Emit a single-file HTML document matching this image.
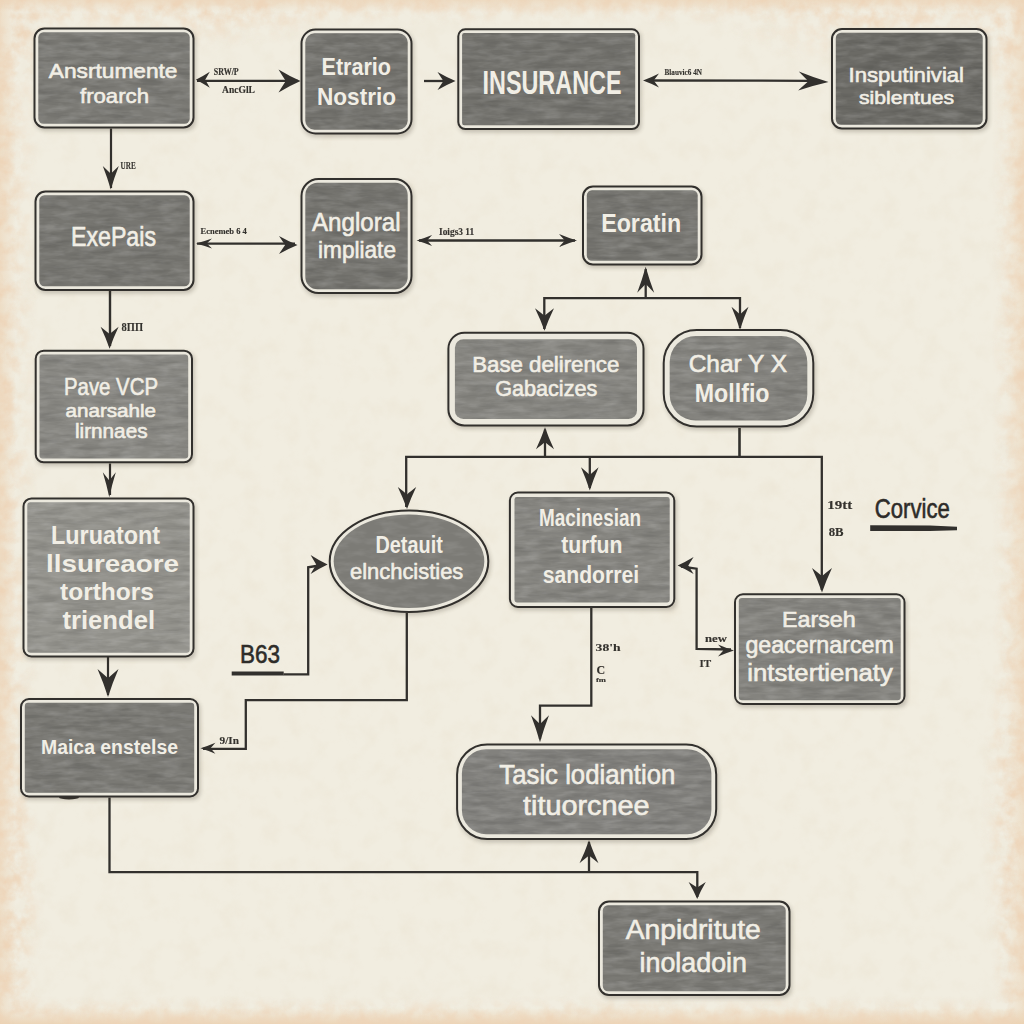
<!DOCTYPE html>
<html><head><meta charset="utf-8"><style>
html,body{margin:0;padding:0;background:#f1ede0;}
body{width:1024px;height:1024px;overflow:hidden;}
svg{display:block;}
</style></head><body>
<svg width="1024" height="1024" viewBox="0 0 1024 1024">
<defs>
<filter id="lblur" x="-5%" y="-20%" width="110%" height="140%"><feGaussianBlur stdDeviation="0.35"/></filter>
<filter id="blur" x="-10%" y="-10%" width="120%" height="120%"><feGaussianBlur stdDeviation="2.2"/></filter>
<filter id="soft" x="-50%" y="-50%" width="200%" height="200%"><feGaussianBlur stdDeviation="18"/></filter>
<filter id="tex2" x="0" y="0" width="100%" height="100%"><feTurbulence type="fractalNoise" baseFrequency="0.03 0.2" numOctaves="3" seed="19"/><feColorMatrix type="matrix" values="0 0 0 0 0  0 0 0 0 0  0 0 0 0 0  0 0 0 -2.4 1.45"/><feComposite in2="SourceGraphic" operator="in"/></filter>
<filter id="tex" x="0" y="0" width="100%" height="100%"><feTurbulence type="fractalNoise" baseFrequency="0.05 0.16" numOctaves="3" seed="7"/><feColorMatrix type="matrix" values="0 0 0 0 1  0 0 0 0 1  0 0 0 0 1  0 0 0 -2.2 1.35"/><feComposite in2="SourceGraphic" operator="in"/></filter>
<pattern id="streak" width="120" height="24" patternUnits="userSpaceOnUse">
<rect x="0" y="3" width="70" height="3" fill="#8a8883" opacity="0.6"/>
<rect x="40" y="11" width="80" height="2" fill="#65635f" opacity="0.6"/>
<rect x="10" y="18" width="60" height="3" fill="#86847f" opacity="0.5"/>
</pattern>
<linearGradient id="gl" x1="0" x2="1" y1="0" y2="0">
<stop offset="0" stop-color="#000" stop-opacity="1"/><stop offset="1" stop-color="#000" stop-opacity="0"/></linearGradient>
<linearGradient id="gr" x1="1" x2="0" y1="0" y2="0">
<stop offset="0" stop-color="#000" stop-opacity="1"/><stop offset="1" stop-color="#000" stop-opacity="0"/></linearGradient>
<linearGradient id="gt" x1="0" x2="0" y1="0" y2="1">
<stop offset="0" stop-color="#000" stop-opacity="1"/><stop offset="1" stop-color="#000" stop-opacity="0"/></linearGradient>
<linearGradient id="gb" x1="0" x2="0" y1="1" y2="0">
<stop offset="0" stop-color="#000" stop-opacity="1"/><stop offset="1" stop-color="#000" stop-opacity="0"/></linearGradient>
<radialGradient id="rg"><stop offset="0" stop-color="#000" stop-opacity="0.8"/><stop offset="1" stop-color="#000" stop-opacity="0"/></radialGradient>
<filter id="blotch" color-interpolation-filters="sRGB" x="0" y="0" width="1024" height="1024" filterUnits="userSpaceOnUse">
<feTurbulence type="fractalNoise" baseFrequency="0.07" numOctaves="4" seed="11" result="n"/>
<feColorMatrix in="n" type="matrix" values="0 0 0 0 0.93  0 0 0 0 0.83  0 0 0 0 0.72  0 0 0 2.2 -0.75" result="c"/>
<feComposite in="c" in2="SourceGraphic" operator="in"/>
</filter>
<filter id="paper" color-interpolation-filters="sRGB" x="0" y="0" width="1024" height="1024" filterUnits="userSpaceOnUse">
<feTurbulence type="fractalNoise" baseFrequency="0.05" numOctaves="4" seed="5" result="n"/>
<feColorMatrix in="n" type="matrix" values="0 0 0 0 0.85  0 0 0 0 0.78  0 0 0 0 0.66  0 0 0 2 -0.9"/>
</filter>
</defs>
<rect width="1024" height="1024" fill="#f1ede0"/>
<rect width="1024" height="1024" fill="#fff" filter="url(#paper)" opacity="0.12"/>
<linearGradient id="wl" x1="0" x2="1" y1="0" y2="0"><stop offset="0" stop-color="#ebcfae" stop-opacity="0.5"/><stop offset="1" stop-color="#ebcfae" stop-opacity="0"/></linearGradient>
<linearGradient id="wr" x1="1" x2="0" y1="0" y2="0"><stop offset="0" stop-color="#ebcfae" stop-opacity="0.45"/><stop offset="1" stop-color="#ebcfae" stop-opacity="0"/></linearGradient>
<linearGradient id="wt" x1="0" x2="0" y1="0" y2="1"><stop offset="0" stop-color="#ebcfae" stop-opacity="0.55"/><stop offset="1" stop-color="#ebcfae" stop-opacity="0"/></linearGradient>
<linearGradient id="wb" x1="0" x2="0" y1="1" y2="0"><stop offset="0" stop-color="#ebcfae" stop-opacity="0.8"/><stop offset="1" stop-color="#ebcfae" stop-opacity="0"/></linearGradient>
<rect x="0" y="0" width="16" height="1024" fill="url(#wl)"/>
<rect x="1006" y="0" width="18" height="1024" fill="url(#wr)"/>
<rect x="0" y="0" width="1024" height="12" fill="url(#wt)"/>
<rect x="0" y="1008" width="1024" height="16" fill="url(#wb)"/>
<g filter="url(#blotch)">
<rect x="0" y="0" width="38" height="1024" fill="url(#gl)"/>
<rect x="992" y="0" width="32" height="1024" fill="url(#gr)"/>
<rect x="0" y="0" width="1024" height="26" fill="url(#gt)" opacity="0.85"/>
<rect x="0" y="996" width="1024" height="28" fill="url(#gb)"/>
<ellipse cx="20" cy="30" rx="70" ry="60" fill="url(#rg)"/>
<ellipse cx="1010" cy="30" rx="50" ry="60" fill="url(#rg)"/>
<ellipse cx="880" cy="15" rx="160" ry="55" fill="url(#rg)"/>
<ellipse cx="200" cy="10" rx="160" ry="40" fill="url(#rg)"/>
<ellipse cx="10" cy="900" rx="35" ry="140" fill="url(#rg)"/>
<ellipse cx="1015" cy="820" rx="35" ry="200" fill="url(#rg)"/>
</g>

<path d="M197,80.8 L298,80.8" fill="none" stroke="#32302d" stroke-width="2.3" stroke-linejoin="miter" stroke-linecap="butt"/>
<path d="M300.5,81.0 Q289.5,85.8 278.5,92.5 Q283.1,85.0 285.8,81.0 Q283.1,77.0 278.5,69.5 Q289.5,76.2 300.5,81.0 Z" fill="#32302d"/>
<path d="M195.8,79.8 Q202.8,76.4 209.8,71.8 Q206.9,77.0 205.2,79.8 Q206.9,82.6 209.8,87.8 Q202.8,83.2 195.8,79.8 Z" fill="#32302d"/>
<path d="M424,81 L452,81" fill="none" stroke="#32302d" stroke-width="2.3" stroke-linejoin="miter" stroke-linecap="butt"/>
<path d="M455.5,81.0 Q446.5,84.8 437.5,90.0 Q441.3,84.2 443.4,81.0 Q441.3,77.8 437.5,72.0 Q446.5,77.2 455.5,81.0 Z" fill="#32302d"/>
<path d="M647,80.5 L810,80.8" fill="none" stroke="#32302d" stroke-width="2.3" stroke-linejoin="miter" stroke-linecap="butt"/>
<path d="M828.5,82.0 Q813.4,85.5 798.2,90.4 Q804.7,84.5 808.4,81.3 Q804.9,77.8 798.8,71.5 Q813.6,77.5 828.5,82.0 Z" fill="#32302d"/>
<path d="M643.0,80.5 Q651.0,77.6 659.0,73.5 Q655.6,78.0 653.7,80.5 Q655.6,83.0 659.0,87.5 Q651.0,83.4 643.0,80.5 Z" fill="#32302d"/>
<path d="M111,128.5 L111,188" fill="none" stroke="#32302d" stroke-width="2.2" stroke-linejoin="miter" stroke-linecap="butt"/>
<path d="M110.8,189.5 Q107.4,177.8 102.8,166.0 Q108.0,170.9 110.8,173.8 Q113.6,170.9 118.8,166.0 Q114.2,177.8 110.8,189.5 Z" fill="#32302d"/>
<path d="M197,243.6 L295,243.6" fill="none" stroke="#32302d" stroke-width="2.3" stroke-linejoin="miter" stroke-linecap="butt"/>
<path d="M297.5,245.0 Q288.2,248.8 279.0,254.0 Q282.9,248.2 285.1,245.0 Q282.9,241.8 279.0,236.0 Q288.2,241.2 297.5,245.0 Z" fill="#32302d"/>
<path d="M196.0,243.6 Q204.0,241.5 212.0,238.6 Q208.6,241.8 206.7,243.6 Q208.6,245.3 212.0,248.6 Q204.0,245.7 196.0,243.6 Z" fill="#32302d"/>
<path d="M419,240.5 L575,240.5" fill="none" stroke="#32302d" stroke-width="2.3" stroke-linejoin="miter" stroke-linecap="butt"/>
<path d="M577.0,240.5 Q568.0,243.2 559.0,247.0 Q562.8,242.8 564.9,240.5 Q562.8,238.2 559.0,234.0 Q568.0,237.8 577.0,240.5 Z" fill="#32302d"/>
<path d="M416.6,240.5 Q424.4,238.2 432.1,235.0 Q428.8,238.6 427.0,240.5 Q428.8,242.4 432.1,246.0 Q424.4,242.8 416.6,240.5 Z" fill="#32302d"/>
<path d="M110,291 L110,346" fill="none" stroke="#32302d" stroke-width="2.4" stroke-linejoin="miter" stroke-linecap="butt"/>
<path d="M109.6,348.8 Q105.8,337.8 100.6,326.8 Q106.4,331.4 109.6,334.1 Q112.8,331.4 118.6,326.8 Q113.4,337.8 109.6,348.8 Z" fill="#32302d"/>
<path d="M110,463.5 L110,495" fill="none" stroke="#32302d" stroke-width="2.2" stroke-linejoin="miter" stroke-linecap="butt"/>
<path d="M109.3,497.3 Q106.6,484.8 102.8,472.3 Q107.0,477.6 109.3,480.6 Q111.6,477.6 115.8,472.3 Q112.0,484.8 109.3,497.3 Z" fill="#32302d"/>
<path d="M108,657 L108,695" fill="none" stroke="#32302d" stroke-width="2.2" stroke-linejoin="miter" stroke-linecap="butt"/>
<path d="M108.0,697.0 Q103.6,683.0 97.5,669.0 Q104.3,674.9 108.0,678.2 Q111.7,674.9 118.5,669.0 Q112.4,683.0 108.0,697.0 Z" fill="#32302d"/>
<path d="M109.5,797.5 L109.5,872.2 L697.3,872.2 L697.3,897" fill="none" stroke="#32302d" stroke-width="2.3" stroke-linejoin="miter" stroke-linecap="butt"/>
<path d="M697.2,899.0 Q693.6,890.5 688.6,882.0 Q694.2,885.6 697.2,887.6 Q700.2,885.6 705.8,882.0 Q700.8,890.5 697.2,899.0 Z" fill="#32302d"/>
<path d="M589,872.2 L589,842" fill="none" stroke="#32302d" stroke-width="2.3" stroke-linejoin="miter" stroke-linecap="butt"/>
<path d="M589.0,840.2 Q593.0,851.7 598.5,863.2 Q592.3,858.4 589.0,855.6 Q585.7,858.4 579.5,863.2 Q585.0,851.7 589.0,840.2 Z" fill="#32302d"/>
<path d="M645.7,298.2 L645.7,269" fill="none" stroke="#32302d" stroke-width="2.3" stroke-linejoin="miter" stroke-linecap="butt"/>
<path d="M645.7,266.7 Q649.3,279.7 654.2,292.7 Q648.7,287.2 645.7,284.1 Q642.7,287.2 637.2,292.7 Q642.1,279.7 645.7,266.7 Z" fill="#32302d"/>
<path d="M544.3,329 L544.3,298.2 L740,298.2 L740,328" fill="none" stroke="#32302d" stroke-width="2.3" stroke-linejoin="miter" stroke-linecap="butt"/>
<path d="M544.5,330.8 Q540.5,319.6 535.0,308.3 Q541.2,313.0 544.5,315.7 Q547.8,313.0 554.0,308.3 Q548.5,319.6 544.5,330.8 Z" fill="#32302d"/>
<path d="M740.0,329.8 Q736.4,318.3 731.5,306.8 Q737.0,311.6 740.0,314.4 Q743.0,311.6 748.5,306.8 Q743.6,318.3 740.0,329.8 Z" fill="#32302d"/>
<path d="M545,456.9 L545,429.5" fill="none" stroke="#32302d" stroke-width="2.3" stroke-linejoin="miter" stroke-linecap="butt"/>
<path d="M545.0,427.3 Q548.8,438.3 554.0,449.3 Q548.1,444.7 545.0,442.0 Q541.9,444.7 536.0,449.3 Q541.2,438.3 545.0,427.3 Z" fill="#32302d"/>
<path d="M739.5,428 L739.5,456.9" fill="none" stroke="#32302d" stroke-width="2.6" stroke-linejoin="miter" stroke-linecap="butt"/>
<path d="M406.2,507 L406.2,456.9 L821.8,456.9 L821.8,590" fill="none" stroke="#32302d" stroke-width="2.3" stroke-linejoin="miter" stroke-linecap="butt"/>
<path d="M407.0,509.1 Q403.1,498.1 397.8,487.1 Q403.8,491.7 407.0,494.4 Q410.2,491.7 416.2,487.1 Q410.9,498.1 407.0,509.1 Z" fill="#32302d"/>
<path d="M822.0,592.5 Q817.8,580.2 812.0,568.0 Q818.5,573.1 822.0,576.1 Q825.5,573.1 832.0,568.0 Q826.2,580.2 822.0,592.5 Z" fill="#32302d"/>
<path d="M589.8,456.9 L589.8,488" fill="none" stroke="#32302d" stroke-width="2.3" stroke-linejoin="miter" stroke-linecap="butt"/>
<path d="M589.8,490.6 Q586.1,478.9 581.0,467.2 Q586.7,472.1 589.8,474.9 Q592.9,472.1 598.6,467.2 Q593.5,478.9 589.8,490.6 Z" fill="#32302d"/>
<path d="M406.8,613 L406.8,700.2 L245.8,700.2 L245.8,748.8 L203,748.8" fill="none" stroke="#32302d" stroke-width="2.3" stroke-linejoin="miter" stroke-linecap="butt"/>
<path d="M200.4,748.3 Q207.9,746.0 215.4,742.8 Q212.3,746.4 210.5,748.3 Q212.3,750.2 215.4,753.8 Q207.9,750.6 200.4,748.3 Z" fill="#32302d"/>
<path d="M283.5,674.4 L308.2,674.4 L308.2,567.3 L322,565" fill="none" stroke="#32302d" stroke-width="2.3" stroke-linejoin="miter" stroke-linecap="butt"/>
<path d="M327.6,564.4 Q319.1,568.4 310.6,573.9 Q314.2,567.7 316.2,564.4 Q314.2,561.1 310.6,554.9 Q319.1,560.4 327.6,564.4 Z" fill="#32302d"/>
<rect x="231.7" y="671.5" width="52" height="4" fill="#32302d"/>
<path d="M591.3,607 L591.3,705.6 L540,705.6 L540,739" fill="none" stroke="#32302d" stroke-width="2.3" stroke-linejoin="miter" stroke-linecap="butt"/>
<path d="M540.0,742.2 Q536.2,728.7 531.0,715.2 Q536.9,720.9 540.0,724.1 Q543.1,720.9 549.0,715.2 Q543.8,728.7 540.0,742.2 Z" fill="#32302d"/>
<path d="M681,566.5 L696.6,568.7 L696.6,648.9 L731,649.5" fill="none" stroke="#32302d" stroke-width="2.3" stroke-linejoin="miter" stroke-linecap="butt"/>
<path d="M677.6,565.5 Q685.6,561.9 693.6,557.0 Q690.2,562.5 688.3,565.5 Q690.2,568.5 693.6,574.0 Q685.6,569.1 677.6,565.5 Z" fill="#32302d"/>
<path d="M734.0,650.5 Q726.0,653.0 718.0,656.5 Q721.4,652.6 723.3,650.5 Q721.4,648.4 718.0,644.5 Q726.0,648.0 734.0,650.5 Z" fill="#32302d"/>
<path d="M870.2,525.3 L930,525.6 L957,526.8 L957,530.2 L930,531 L870.2,531 Z" fill="#32302d"/>
<rect x="35.0" y="30.0" width="161.0" height="101.0" rx="10" fill="#3a3020" opacity="0.24" filter="url(#blur)"/>
<rect x="34.5" y="28.5" width="159.0" height="99.0" rx="10" fill="#ebe8dd" stroke="#32302d" stroke-width="2.0"/>
<rect x="38.3" y="32.3" width="151.4" height="91.4" rx="5.2" fill="#7b7a75"/>
<rect x="38.3" y="32.3" width="151.4" height="91.4" rx="5.2" fill="#fff" filter="url(#tex)" opacity="0.13"/>
<rect x="38.3" y="32.3" width="151.4" height="91.4" rx="5.2" fill="#000" filter="url(#tex2)" opacity="0.10"/>
<text x="48.75" y="77.5" textLength="128.75" lengthAdjust="spacingAndGlyphs" font-family="Liberation Sans" font-weight="normal" font-size="21" fill="#f1eee5" stroke="#f1eee5" stroke-width="0.6">Ansrtumente</text>
<text x="80" y="102.5" textLength="69" lengthAdjust="spacingAndGlyphs" font-family="Liberation Sans" font-weight="normal" font-size="21" fill="#f1eee5" stroke="#f1eee5" stroke-width="0.6">froarch</text>
<rect x="302.0" y="31.0" width="112.0" height="106.0" rx="14" fill="#3a3020" opacity="0.24" filter="url(#blur)"/>
<rect x="301.5" y="29.5" width="110.0" height="104.0" rx="14" fill="#ebe8dd" stroke="#32302d" stroke-width="2.0"/>
<rect x="305.3" y="33.3" width="102.4" height="96.4" rx="9.2" fill="#74736e"/>
<rect x="305.3" y="33.3" width="102.4" height="96.4" rx="9.2" fill="#fff" filter="url(#tex)" opacity="0.13"/>
<rect x="305.3" y="33.3" width="102.4" height="96.4" rx="9.2" fill="#000" filter="url(#tex2)" opacity="0.10"/>
<text x="321.5" y="75" textLength="69.5" lengthAdjust="spacingAndGlyphs" font-family="Liberation Sans" font-weight="bold" font-size="24" fill="#f1eee5">Etrario</text>
<text x="317" y="105" textLength="79" lengthAdjust="spacingAndGlyphs" font-family="Liberation Sans" font-weight="bold" font-size="24" fill="#f1eee5">Nostrio</text>
<rect x="458.8" y="30.8" width="182.7" height="101.7" rx="7" fill="#3a3020" opacity="0.24" filter="url(#blur)"/>
<rect x="458.3" y="29.3" width="180.7" height="99.7" rx="7" fill="#ebe8dd" stroke="#32302d" stroke-width="2.0"/>
<rect x="462.1" y="33.1" width="173.1" height="92.10000000000001" rx="2.2" fill="#73726d"/>
<rect x="462.1" y="33.1" width="173.1" height="92.10000000000001" rx="2.2" fill="#fff" filter="url(#tex)" opacity="0.13"/>
<rect x="462.1" y="33.1" width="173.1" height="92.10000000000001" rx="2.2" fill="#000" filter="url(#tex2)" opacity="0.10"/>
<text x="482.5" y="94" textLength="139.0" lengthAdjust="spacingAndGlyphs" font-family="Liberation Sans" font-weight="bold" font-size="33" fill="#f1eee5">INSURANCE</text>
<rect x="832.5" y="30.5" width="156.5" height="101.5" rx="10" fill="#3a3020" opacity="0.24" filter="url(#blur)"/>
<rect x="832.0" y="29.0" width="154.5" height="99.5" rx="10" fill="#ebe8dd" stroke="#32302d" stroke-width="2.0"/>
<rect x="835.8" y="32.8" width="146.9" height="91.9" rx="5.2" fill="#6b6a65"/>
<rect x="835.8" y="32.8" width="146.9" height="91.9" rx="5.2" fill="#fff" filter="url(#tex)" opacity="0.13"/>
<rect x="835.8" y="32.8" width="146.9" height="91.9" rx="5.2" fill="#000" filter="url(#tex2)" opacity="0.10"/>
<text x="848.5" y="82" textLength="115.5" lengthAdjust="spacingAndGlyphs" font-family="Liberation Sans" font-weight="normal" font-size="21" fill="#f1eee5" stroke="#f1eee5" stroke-width="0.6">Insputinivial</text>
<text x="859" y="104" textLength="95" lengthAdjust="spacingAndGlyphs" font-family="Liberation Sans" font-weight="normal" font-size="18" fill="#f1eee5" stroke="#f1eee5" stroke-width="0.6">siblentues</text>
<rect x="36.0" y="193.0" width="160.0" height="100.5" rx="10" fill="#3a3020" opacity="0.24" filter="url(#blur)"/>
<rect x="35.5" y="191.5" width="158.0" height="98.5" rx="10" fill="#ebe8dd" stroke="#32302d" stroke-width="2.0"/>
<rect x="39.3" y="195.3" width="150.4" height="90.9" rx="5.2" fill="#777671"/>
<rect x="39.3" y="195.3" width="150.4" height="90.9" rx="5.2" fill="#fff" filter="url(#tex)" opacity="0.13"/>
<rect x="39.3" y="195.3" width="150.4" height="90.9" rx="5.2" fill="#000" filter="url(#tex2)" opacity="0.10"/>
<text x="71" y="246" textLength="85" lengthAdjust="spacingAndGlyphs" font-family="Liberation Sans" font-weight="normal" font-size="27" fill="#f1eee5" stroke="#f1eee5" stroke-width="0.6">ExePais</text>
<rect x="302.0" y="180.5" width="112.0" height="116" rx="17" fill="#3a3020" opacity="0.24" filter="url(#blur)"/>
<rect x="301.5" y="179.0" width="110.0" height="114.0" rx="17" fill="#ebe8dd" stroke="#32302d" stroke-width="2.0"/>
<rect x="305.3" y="182.8" width="102.4" height="106.4" rx="12.2" fill="#75746f"/>
<rect x="305.3" y="182.8" width="102.4" height="106.4" rx="12.2" fill="#fff" filter="url(#tex)" opacity="0.13"/>
<rect x="305.3" y="182.8" width="102.4" height="106.4" rx="12.2" fill="#000" filter="url(#tex2)" opacity="0.10"/>
<text x="312" y="231" textLength="88.5" lengthAdjust="spacingAndGlyphs" font-family="Liberation Sans" font-weight="normal" font-size="25" fill="#f1eee5" stroke="#f1eee5" stroke-width="0.6">Angloral</text>
<text x="318" y="258" textLength="78" lengthAdjust="spacingAndGlyphs" font-family="Liberation Sans" font-weight="normal" font-size="24" fill="#f1eee5" stroke="#f1eee5" stroke-width="0.6">impliate</text>
<rect x="583.5" y="188.0" width="120.5" height="80.0" rx="10" fill="#3a3020" opacity="0.24" filter="url(#blur)"/>
<rect x="583.0" y="186.5" width="118.5" height="78.0" rx="10" fill="#ebe8dd" stroke="#32302d" stroke-width="2.0"/>
<rect x="586.8" y="190.3" width="110.9" height="70.4" rx="5.2" fill="#767570"/>
<rect x="586.8" y="190.3" width="110.9" height="70.4" rx="5.2" fill="#fff" filter="url(#tex)" opacity="0.13"/>
<rect x="586.8" y="190.3" width="110.9" height="70.4" rx="5.2" fill="#000" filter="url(#tex2)" opacity="0.10"/>
<text x="601.2" y="232.4" textLength="80.0" lengthAdjust="spacingAndGlyphs" font-family="Liberation Sans" font-weight="bold" font-size="26" fill="#f1eee5">Eoratin</text>
<rect x="36.2" y="352.2" width="158.3" height="113.60000000000002" rx="8" fill="#3a3020" opacity="0.24" filter="url(#blur)"/>
<rect x="35.7" y="350.7" width="156.3" height="111.60000000000002" rx="8" fill="#ebe8dd" stroke="#32302d" stroke-width="2.0"/>
<rect x="39.5" y="354.5" width="148.70000000000002" height="104.00000000000003" rx="3.2" fill="#898883"/>
<rect x="39.5" y="354.5" width="148.70000000000002" height="104.00000000000003" rx="3.2" fill="#fff" filter="url(#tex)" opacity="0.13"/>
<rect x="39.5" y="354.5" width="148.70000000000002" height="104.00000000000003" rx="3.2" fill="#000" filter="url(#tex2)" opacity="0.10"/>
<text x="64" y="395" textLength="94" lengthAdjust="spacingAndGlyphs" font-family="Liberation Sans" font-weight="normal" font-size="24" fill="#f1eee5" stroke="#f1eee5" stroke-width="0.6">Pave VCP</text>
<text x="65.5" y="417" textLength="90.5" lengthAdjust="spacingAndGlyphs" font-family="Liberation Sans" font-weight="normal" font-size="19" fill="#f1eee5" stroke="#f1eee5" stroke-width="0.6">anarsahle</text>
<text x="75" y="437.5" textLength="72.5" lengthAdjust="spacingAndGlyphs" font-family="Liberation Sans" font-weight="normal" font-size="20" fill="#f1eee5" stroke="#f1eee5" stroke-width="0.6">lirnnaes</text>
<rect x="24.0" y="499.9" width="172.0" height="160.10000000000002" rx="8" fill="#3a3020" opacity="0.24" filter="url(#blur)"/>
<rect x="23.5" y="498.4" width="170.0" height="158.10000000000002" rx="8" fill="#ebe8dd" stroke="#32302d" stroke-width="2.0"/>
<rect x="27.3" y="502.2" width="162.4" height="150.50000000000003" rx="3.2" fill="#94938d"/>
<rect x="27.3" y="502.2" width="162.4" height="150.50000000000003" rx="3.2" fill="#fff" filter="url(#tex)" opacity="0.13"/>
<rect x="27.3" y="502.2" width="162.4" height="150.50000000000003" rx="3.2" fill="#000" filter="url(#tex2)" opacity="0.10"/>
<text x="51" y="543.5" textLength="109" lengthAdjust="spacingAndGlyphs" font-family="Liberation Sans" font-weight="bold" font-size="25" fill="#f1eee5">Luruatont</text>
<text x="46" y="572" textLength="133" lengthAdjust="spacingAndGlyphs" font-family="Liberation Sans" font-weight="bold" font-size="24" fill="#f1eee5">llsureaore</text>
<text x="60" y="599.5" textLength="94" lengthAdjust="spacingAndGlyphs" font-family="Liberation Sans" font-weight="bold" font-size="23" fill="#f1eee5">torthors</text>
<text x="62.5" y="628.5" textLength="92.5" lengthAdjust="spacingAndGlyphs" font-family="Liberation Sans" font-weight="bold" font-size="25" fill="#f1eee5">triendel</text>
<rect x="448.9" y="334.2" width="197.10000000000002" height="94.69999999999999" rx="16" fill="#3a3020" opacity="0.24" filter="url(#blur)"/>
<rect x="448.4" y="332.7" width="195.10000000000002" height="92.69999999999999" rx="16" fill="#ebe8dd" stroke="#32302d" stroke-width="2.0"/>
<rect x="454.9" y="339.2" width="182.10000000000002" height="79.69999999999999" rx="8.5" fill="#878681"/>
<rect x="454.9" y="339.2" width="182.10000000000002" height="79.69999999999999" rx="8.5" fill="#fff" filter="url(#tex)" opacity="0.13"/>
<rect x="454.9" y="339.2" width="182.10000000000002" height="79.69999999999999" rx="8.5" fill="#000" filter="url(#tex2)" opacity="0.10"/>
<text x="472.2" y="371.8" textLength="147.09999999999997" lengthAdjust="spacingAndGlyphs" font-family="Liberation Sans" font-weight="normal" font-size="22" fill="#f1eee5" stroke="#f1eee5" stroke-width="0.6">Base delirence</text>
<text x="495.3" y="396.2" textLength="101.90000000000003" lengthAdjust="spacingAndGlyphs" font-family="Liberation Sans" font-weight="normal" font-size="22" fill="#f1eee5" stroke="#f1eee5" stroke-width="0.6">Gabacizes</text>
<rect x="664.2" y="331.6" width="151.5999999999999" height="98.5" rx="33" fill="#3a3020" opacity="0.24" filter="url(#blur)"/>
<rect x="663.7" y="330.1" width="149.5999999999999" height="96.5" rx="33" fill="#ebe8dd" stroke="#32302d" stroke-width="2.0"/>
<rect x="669.7" y="336.1" width="137.5999999999999" height="84.5" rx="26.0" fill="#83827d"/>
<rect x="669.7" y="336.1" width="137.5999999999999" height="84.5" rx="26.0" fill="#fff" filter="url(#tex)" opacity="0.13"/>
<rect x="669.7" y="336.1" width="137.5999999999999" height="84.5" rx="26.0" fill="#000" filter="url(#tex2)" opacity="0.10"/>
<text x="688.7" y="371.8" textLength="98.29999999999995" lengthAdjust="spacingAndGlyphs" font-family="Liberation Sans" font-weight="normal" font-size="24" fill="#f1eee5" stroke="#f1eee5" stroke-width="0.6">Char Y X</text>
<text x="694.8" y="401.7" textLength="74.70000000000005" lengthAdjust="spacingAndGlyphs" font-family="Liberation Sans" font-weight="bold" font-size="26" fill="#f1eee5">Mollfio</text>
<rect x="510.4" y="494.0" width="166.39999999999998" height="116.5" rx="8" fill="#3a3020" opacity="0.24" filter="url(#blur)"/>
<rect x="509.9" y="492.5" width="164.39999999999998" height="114.5" rx="8" fill="#ebe8dd" stroke="#32302d" stroke-width="2.0"/>
<rect x="514.5" y="497.1" width="155.2" height="105.3" rx="2.4000000000000004" fill="#868580"/>
<rect x="514.5" y="497.1" width="155.2" height="105.3" rx="2.4000000000000004" fill="#fff" filter="url(#tex)" opacity="0.13"/>
<rect x="514.5" y="497.1" width="155.2" height="105.3" rx="2.4000000000000004" fill="#000" filter="url(#tex2)" opacity="0.10"/>
<text x="539" y="526.4" textLength="102" lengthAdjust="spacingAndGlyphs" font-family="Liberation Sans" font-weight="bold" font-size="23" fill="#f1eee5">Macinesian</text>
<text x="561.2" y="553.3" textLength="61.19999999999993" lengthAdjust="spacingAndGlyphs" font-family="Liberation Sans" font-weight="bold" font-size="23" fill="#f1eee5">turfun</text>
<text x="542.7" y="583" textLength="96.39999999999998" lengthAdjust="spacingAndGlyphs" font-family="Liberation Sans" font-weight="bold" font-size="23" fill="#f1eee5">sandorrei</text>
<rect x="735.5" y="595.8" width="171.5" height="111.70000000000005" rx="8" fill="#3a3020" opacity="0.24" filter="url(#blur)"/>
<rect x="735.0" y="594.3" width="169.5" height="109.70000000000005" rx="8" fill="#ebe8dd" stroke="#32302d" stroke-width="2.0"/>
<rect x="738.8" y="598.0999999999999" width="161.9" height="102.10000000000005" rx="3.2" fill="#84837e"/>
<rect x="738.8" y="598.0999999999999" width="161.9" height="102.10000000000005" rx="3.2" fill="#fff" filter="url(#tex)" opacity="0.13"/>
<rect x="738.8" y="598.0999999999999" width="161.9" height="102.10000000000005" rx="3.2" fill="#000" filter="url(#tex2)" opacity="0.10"/>
<text x="782.1" y="626.9" textLength="73.60000000000002" lengthAdjust="spacingAndGlyphs" font-family="Liberation Sans" font-weight="normal" font-size="22" fill="#f1eee5" stroke="#f1eee5" stroke-width="0.6">Earseh</text>
<text x="745.4" y="653.2" textLength="148.39999999999998" lengthAdjust="spacingAndGlyphs" font-family="Liberation Sans" font-weight="normal" font-size="23" fill="#f1eee5" stroke="#f1eee5" stroke-width="0.6">geacernarcem</text>
<text x="747.3" y="680.6" textLength="145.5" lengthAdjust="spacingAndGlyphs" font-family="Liberation Sans" font-weight="normal" font-size="23" fill="#f1eee5" stroke="#f1eee5" stroke-width="0.6">intstertienaty</text>
<ellipse cx="410.5" cy="563.75" rx="80.3" ry="51.75" fill="#3a3020" opacity="0.24" filter="url(#blur)"/>
<ellipse cx="409" cy="561.25" rx="79.3" ry="50.75" fill="#ebe8dd" stroke="#32302d" stroke-width="2.0"/>
<ellipse cx="409" cy="561.25" rx="75.3" ry="46.75" fill="#7c7b76"/>
<ellipse cx="409" cy="561.25" rx="75.3" ry="46.75" fill="#fff" filter="url(#tex)" opacity="0.09"/>
<text x="375.4" y="552.5" textLength="67.40000000000003" lengthAdjust="spacingAndGlyphs" font-family="Liberation Sans" font-weight="bold" font-size="23" fill="#f1eee5">Detauit</text>
<text x="350" y="578.9" textLength="113.30000000000001" lengthAdjust="spacingAndGlyphs" font-family="Liberation Sans" font-weight="normal" font-size="22" fill="#f1eee5" stroke="#f1eee5" stroke-width="0.6">elnchcisties</text>
<ellipse cx="69" cy="797.4" rx="10" ry="2" fill="#32302d"/>
<rect x="21.5" y="700.5" width="179" height="99.5" rx="8" fill="#3a3020" opacity="0.24" filter="url(#blur)"/>
<rect x="21.0" y="699.0" width="177.0" height="97.5" rx="8" fill="#ebe8dd" stroke="#32302d" stroke-width="2.0"/>
<rect x="24.8" y="702.8" width="169.4" height="89.9" rx="3.2" fill="#7a7974"/>
<rect x="24.8" y="702.8" width="169.4" height="89.9" rx="3.2" fill="#fff" filter="url(#tex)" opacity="0.13"/>
<rect x="24.8" y="702.8" width="169.4" height="89.9" rx="3.2" fill="#000" filter="url(#tex2)" opacity="0.10"/>
<text x="41" y="754" textLength="137" lengthAdjust="spacingAndGlyphs" font-family="Liberation Sans" font-weight="bold" font-size="21" fill="#f1eee5">Maica enstelse</text>
<rect x="457.6" y="745.9" width="261.1" height="96.60000000000002" rx="30" fill="#3a3020" opacity="0.24" filter="url(#blur)"/>
<rect x="457.1" y="744.4" width="259.1" height="94.60000000000002" rx="30" fill="#ebe8dd" stroke="#32302d" stroke-width="2.0"/>
<rect x="461.90000000000003" y="749.1999999999999" width="249.50000000000003" height="85.00000000000003" rx="24.2" fill="#82817d"/>
<rect x="461.90000000000003" y="749.1999999999999" width="249.50000000000003" height="85.00000000000003" rx="24.2" fill="#fff" filter="url(#tex)" opacity="0.13"/>
<rect x="461.90000000000003" y="749.1999999999999" width="249.50000000000003" height="85.00000000000003" rx="24.2" fill="#000" filter="url(#tex2)" opacity="0.10"/>
<text x="499.3" y="784.3" textLength="176.09999999999997" lengthAdjust="spacingAndGlyphs" font-family="Liberation Sans" font-weight="normal" font-size="28" fill="#f1eee5" stroke="#f1eee5" stroke-width="0.6">Tasic lodiantion</text>
<text x="523" y="814.9" textLength="126.60000000000002" lengthAdjust="spacingAndGlyphs" font-family="Liberation Sans" font-weight="normal" font-size="27" fill="#f1eee5" stroke="#f1eee5" stroke-width="0.6">tituorcnee</text>
<rect x="599.5" y="903.0" width="192.5" height="95.5" rx="10" fill="#3a3020" opacity="0.24" filter="url(#blur)"/>
<rect x="599.0" y="901.5" width="190.5" height="93.5" rx="10" fill="#ebe8dd" stroke="#32302d" stroke-width="2.0"/>
<rect x="602.8" y="905.3" width="182.9" height="85.9" rx="5.2" fill="#7a7974"/>
<rect x="602.8" y="905.3" width="182.9" height="85.9" rx="5.2" fill="#fff" filter="url(#tex)" opacity="0.13"/>
<rect x="602.8" y="905.3" width="182.9" height="85.9" rx="5.2" fill="#000" filter="url(#tex2)" opacity="0.10"/>
<text x="625.75" y="939" textLength="135.0" lengthAdjust="spacingAndGlyphs" font-family="Liberation Sans" font-weight="normal" font-size="27" fill="#f1eee5" stroke="#f1eee5" stroke-width="0.6">Anpidritute</text>
<text x="639.5" y="972.4" textLength="107.5" lengthAdjust="spacingAndGlyphs" font-family="Liberation Sans" font-weight="normal" font-size="27" fill="#f1eee5" stroke="#f1eee5" stroke-width="0.6">inoladoin</text>
<g filter="url(#lblur)">
<text x="213.75" y="75.2" textLength="25.0" lengthAdjust="spacingAndGlyphs" font-family="Liberation Serif" font-weight="bold" font-size="9.5" fill="#34322e" stroke="#34322e" stroke-width="0.15">SRW/P</text>
</g>
<g filter="url(#lblur)">
<text x="222" y="92.8" textLength="33" lengthAdjust="spacingAndGlyphs" font-family="Liberation Serif" font-weight="bold" font-size="9.5" fill="#34322e" stroke="#34322e" stroke-width="0.15">AncGlL</text>
</g>
<g filter="url(#lblur)">
<text x="664.5" y="75" textLength="37.5" lengthAdjust="spacingAndGlyphs" font-family="Liberation Serif" font-weight="bold" font-size="9" fill="#34322e" stroke="#34322e" stroke-width="0.15">Blauvic6 4N</text>
</g>
<g filter="url(#lblur)">
<text x="120.5" y="169.3" textLength="15.199999999999989" lengthAdjust="spacingAndGlyphs" font-family="Liberation Serif" font-weight="bold" font-size="11" fill="#34322e" stroke="#34322e" stroke-width="0.15">URE</text>
</g>
<g filter="url(#lblur)">
<text x="121.6" y="330.5" textLength="21.400000000000006" lengthAdjust="spacingAndGlyphs" font-family="Liberation Serif" font-weight="bold" font-size="12" fill="#34322e" stroke="#34322e" stroke-width="0.15">8ΠΠ</text>
</g>
<g filter="url(#lblur)">
<text x="200.6" y="234.4" textLength="46.20000000000002" lengthAdjust="spacingAndGlyphs" font-family="Liberation Serif" font-weight="bold" font-size="9" fill="#34322e" stroke="#34322e" stroke-width="0.15">Ecnemeb 6 4</text>
</g>
<g filter="url(#lblur)">
<text x="439" y="234.6" textLength="35.19999999999999" lengthAdjust="spacingAndGlyphs" font-family="Liberation Serif" font-weight="bold" font-size="9.5" fill="#34322e" stroke="#34322e" stroke-width="0.15">Ioigs3 11</text>
</g>
<g filter="url(#lblur)">
<text x="827.2" y="509" textLength="25.0" lengthAdjust="spacingAndGlyphs" font-family="Liberation Serif" font-weight="bold" font-size="12" fill="#34322e" stroke="#34322e" stroke-width="0.15">19tt</text>
</g>
<g filter="url(#lblur)">
<text x="828.75" y="535.5" textLength="14.850000000000023" lengthAdjust="spacingAndGlyphs" font-family="Liberation Serif" font-weight="bold" font-size="13" fill="#34322e" stroke="#34322e" stroke-width="0.15">8B</text>
</g>
<g filter="url(#lblur)">
<text x="595.6" y="650.5" textLength="25.0" lengthAdjust="spacingAndGlyphs" font-family="Liberation Serif" font-weight="bold" font-size="11" fill="#34322e" stroke="#34322e" stroke-width="0.15">38'h</text>
</g>
<g filter="url(#lblur)">
<text x="596.4" y="674" textLength="8.600000000000023" lengthAdjust="spacingAndGlyphs" font-family="Liberation Serif" font-weight="bold" font-size="12" fill="#34322e" stroke="#34322e" stroke-width="0.15">C</text>
</g>
<g filter="url(#lblur)">
<text x="596" y="681.7" textLength="10" lengthAdjust="spacingAndGlyphs" font-family="Liberation Serif" font-weight="bold" font-size="7" fill="#34322e" stroke="#34322e" stroke-width="0.15">fm</text>
</g>
<g filter="url(#lblur)">
<text x="705" y="641.9" textLength="21.899999999999977" lengthAdjust="spacingAndGlyphs" font-family="Liberation Serif" font-weight="bold" font-size="10" fill="#34322e" stroke="#34322e" stroke-width="0.15">new</text>
</g>
<g filter="url(#lblur)">
<text x="699.5" y="666.9" textLength="11.75" lengthAdjust="spacingAndGlyphs" font-family="Liberation Serif" font-weight="bold" font-size="11" fill="#34322e" stroke="#34322e" stroke-width="0.15">IT</text>
</g>
<g filter="url(#lblur)">
<text x="219.6" y="743.7" textLength="19.400000000000006" lengthAdjust="spacingAndGlyphs" font-family="Liberation Serif" font-weight="bold" font-size="11" fill="#34322e" stroke="#34322e" stroke-width="0.15">9/In</text>
</g>
<text x="240" y="662.7" textLength="40" lengthAdjust="spacingAndGlyphs" font-family="Liberation Sans" font-weight="normal" font-size="26" fill="#2e2c29" stroke="#2e2c29" stroke-width="0.6">B63</text>
<text x="874.8" y="518.3" textLength="75.0" lengthAdjust="spacingAndGlyphs" font-family="Liberation Sans" font-weight="normal" font-size="27" fill="#2e2c29" stroke="#2e2c29" stroke-width="0.6">Corvice</text>
</svg></body></html>
